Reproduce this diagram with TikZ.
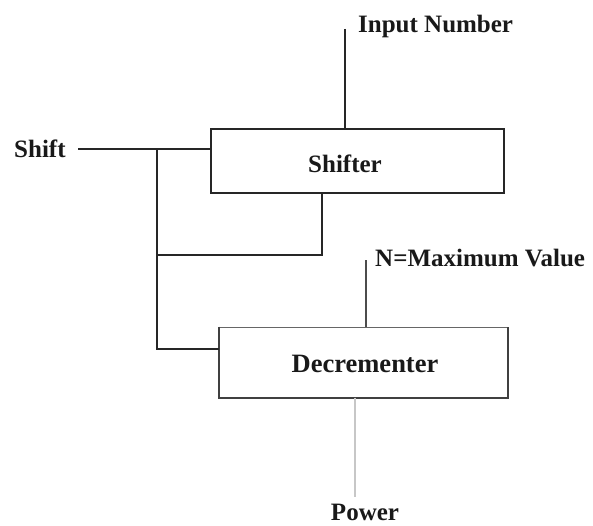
\documentclass[tikz,border=0pt]{standalone}
\usepackage{fontspec}
\setmainfont{Liberation Serif}
\begin{document}
\begin{tikzpicture}[x=1pt,y=-1pt,
  lbl/.style={font=\bfseries\fontsize{25}{27}\selectfont, inner sep=0pt, text=black!90},
  block/.style={draw=black!85, line width=1.3pt, fill=white, inner sep=0pt},
  wire/.style={draw=black!85, line width=1.1pt}]
  \useasboundingbox (0,0) rectangle (593,526);

  % the two blocks
  \node[block, minimum width=293pt, minimum height=64pt] (shifter) at (357.5,161) {};
  \node[lbl] (shiftertxt) at (345,164) {Shifter};
  \node[block, draw=black!60, line width=1pt, minimum width=288pt, minimum height=70pt] (decr) at (363,362) {};
  \node[lbl, font=\bfseries\fontsize{26.5}{28}\selectfont] (decrtxt) at (365,364) {Decrementer};
  % heavier left, right and bottom edges of the decrementer
  \draw[black!75, line width=2pt] (decr.north west) -- (decr.south west) -- (decr.south east) -- (decr.north east);

  % labels
  \node[lbl, anchor=west] (shift) at (14,149) {Shift};
  \node[lbl, anchor=west] (input) at (358,26) {Input Number};
  \node[lbl, anchor=west] (nmax) at (375,258) {N=Maximum Value};
  \node[lbl, anchor=base] (power) at (365,520) {Power};

  % free ends and junctions
  \coordinate (shiftend) at (78,149);
  \coordinate (j1) at (157,149);
  \coordinate (j2) at (157,255);
  \coordinate (j3) at (157,349);
  \coordinate (sfout) at (322,255);
  \coordinate (inend) at (345,29);
  \coordinate (nend) at (366,260);
  \coordinate (pend) at (355,497);

  % shift line and its branches
  \draw[wire] (shiftend) -- (shifter.west |- shiftend);
  \draw[wire] (j1) -- (j3) -- (decr.west |- j3);
  \draw[wire] (j2) -- (sfout) -- (shifter.south -| sfout);

  % inputs
  \draw[wire] (inend) -- (shifter.north -| inend);
  \draw[draw=black!70, line width=2pt] (nend) -- (decr.north -| nend);
  \draw[draw=black!22, line width=2.2pt] (decr.south -| pend) -- (pend);
\end{tikzpicture}
\end{document}
